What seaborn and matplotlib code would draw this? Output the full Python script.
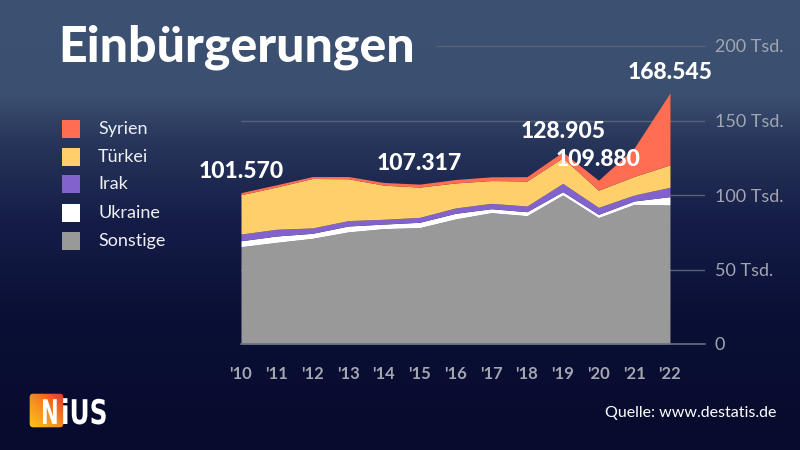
import numpy as np
import pandas as pd
import matplotlib
matplotlib.use('Agg')
import matplotlib.pyplot as plt
import seaborn as sns
from matplotlib.patches import Rectangle, FancyBboxPatch, PathPatch
from matplotlib.textpath import TextPath
from matplotlib.font_manager import FontProperties
from matplotlib.transforms import Affine2D

# Einbürgerungen in Tausend
years = [2010, 2011, 2012, 2013, 2014, 2015, 2016, 2017, 2018, 2019, 2020, 2021, 2022]
year_labels = ["'10", "'11", "'12", "'13", "'14", "'15", "'16", "'17", "'18", "'19", "'20", "'21", "'22"]
sonstige = [65.3, 68.2, 70.9, 75.2, 77.4, 78.1, 83.9, 88.1, 86.1, 100.0, 84.8, 93.7, 93.3]
ukraine = [4.0, 4.3, 3.4, 4.0, 3.1, 3.6, 3.8, 2.7, 2.7, 2.2, 2.2, 2.3, 5.6]
irak = [4.5, 4.5, 3.6, 3.6, 3.2, 3.3, 3.6, 3.6, 3.8, 5.6, 4.7, 4.0, 6.3]
tuerkei = [26.4, 28.4, 33.2, 28.1, 22.9, 20.3, 16.8, 15.3, 16.8, 17.2, 11.5, 12.5, 15.0]
syrien = [1.4, 1.5, 1.3, 1.5, 1.8, 2.0, 2.3, 2.5, 2.9, 3.9, 6.7, 19.1, 48.3]
totals = [101570, 106897, 112348, 112353, 108422, 107317, 110383, 112211, 112340, 128905, 109880, 131595, 168545]
labelled_years = [2010, 2015, 2019, 2020, 2022]

y_ticks = [0, 50, 100, 150, 200]
y_tick_labels = ['0', '50 Tsd.', '100 Tsd.', '150 Tsd.', '200 Tsd.']

df = pd.DataFrame({'Jahr': years, 'Sonstige': sonstige, 'Ukraine': ukraine,
                   'Irak': irak, 'Türkei': tuerkei, 'Syrien': syrien})
stack_order = ['Sonstige', 'Ukraine', 'Irak', 'Türkei', 'Syrien']
colors = {'Syrien': '#ff6e52', 'Türkei': '#ffcf6a', 'Irak': '#8262cc',
          'Ukraine': '#ffffff', 'Sonstige': '#999999'}

sns.set_theme(style='dark')
plt.rcParams['font.family'] = ['Lato', 'DejaVu Sans']

fig = plt.figure(figsize=(8, 4.5), dpi=100)

# background gradient
bg = fig.add_axes([0, 0, 1, 1], zorder=-10)
stops_y = [0, 95, 140, 220, 320, 450]
stops_c = ['#3d5272', '#3b4f70', '#28365b', '#151d47', '#0a0f35', '#070b2d']
rgb = np.array([matplotlib.colors.to_rgb(c) for c in stops_c])
rows = np.arange(450)
grad = np.stack([np.interp(rows, stops_y, rgb[:, i]) for i in range(3)], axis=1)
bg.imshow(grad[:, None, :], aspect='auto', extent=[0, 1, 0, 1])
bg.set_xlim(0, 1)
bg.set_ylim(0, 1)
bg.set_axis_off()

ax = fig.add_axes([241 / 800, 106 / 450, 464 / 800, 298 / 450])
ax.set_facecolor('none')

# gridlines behind areas
for yv in [50, 100, 150]:
    ax.axhline(yv, color='#56617a', lw=1, zorder=0)
ax.axhline(200, xmin=0.42, color='#56617a', lw=1, zorder=0, clip_on=False)

ax.stackplot(df['Jahr'], [df[c] for c in stack_order],
             colors=[colors[c] for c in stack_order], lw=0, zorder=2)

for yr, tot in zip(years, totals):
    if yr in labelled_years:
        ax.annotate(f'{tot:,}'.replace(',', '.'), (yr, tot / 1000), xytext=(0, 15),
                    textcoords='offset points', ha='center', va='center',
                    fontsize=16.5, fontweight='black', color='white', zorder=5)

ax.set_xlim(2010, 2022.98)
ax.set_ylim(0, 200)
ax.yaxis.tick_right()
ax.set_yticks(y_ticks)
ax.set_yticklabels(y_tick_labels)
ax.set_xticks(years)
ax.set_xticklabels(year_labels)
ax.set_xticks([2010, 2020], minor=True)
ax.tick_params(axis='y', length=0, pad=7, labelsize=13, labelcolor='#a3a6b0')
ax.tick_params(axis='x', which='major', length=5, width=1, color='#555c70', pad=11,
               labelsize=12, labelcolor='#a3a6b0')
ax.tick_params(axis='x', which='minor', length=10, width=1, color='#555c70')
for lbl in ax.get_xticklabels():
    lbl.set_fontweight('bold')
ax.grid(False)
sns.despine(ax=ax, left=True, right=True, top=True)
ax.spines['bottom'].set_color('#6a7082')
ax.spines['bottom'].set_linewidth(1.2)
ax.spines['bottom'].set_zorder(3)

# title
fig.text(58 / 800, 1 - 47 / 450, 'Einbürgerungen', fontsize=36, fontweight='black',
         color='white', va='center', ha='left')

# legend
legend_y = [129, 157, 184, 213, 241]
for name, ly in zip(['Syrien', 'Türkei', 'Irak', 'Ukraine', 'Sonstige'], legend_y):
    fig.patches.append(Rectangle((62 / 800, 1 - (ly + 9) / 450), 18 / 800, 18 / 450,
                                 transform=fig.transFigure, facecolor=colors[name],
                                 edgecolor='none'))
    fig.text(98 / 800, 1 - ly / 450, name, fontsize=13, color='#eef0f5',
             va='center', ha='left')

# logo
logo = fig.add_axes([29 / 800, 1 - 428 / 450, 35 / 800, 35 / 450])
lg = np.linspace(0, 1, 64)
gx, gy = np.meshgrid(lg, lg)
logo_grad = np.clip((gx + (1 - gy)) / 2, 0, 1)
cmap = matplotlib.colors.LinearSegmentedColormap.from_list('niu', ['#ffc61a', '#f58a1f', '#e4332b'])
im = logo.imshow(logo_grad, cmap=cmap, extent=[0, 1, 0, 1], aspect='auto')
box = FancyBboxPatch((0.02, 0.02), 0.96, 0.96, boxstyle='round,pad=0,rounding_size=0.1',
                     transform=logo.transAxes, facecolor='none', edgecolor='none')
logo.add_patch(box)
im.set_clip_path(box)
logo.set_axis_off()

# logo lettering, drawn in pixel space
fp = FontProperties(family='DejaVu Sans', weight='bold')
pix = fig.add_axes([0, 0, 1, 1], zorder=5)
pix.set_xlim(0, 800)
pix.set_ylim(450, 0)
pix.set_axis_off()
for txt, x0, sx in [('N', 41, 0.62), ('iUS', 61, 0.73)]:
    tp = TextPath((0, 0), txt, size=34, prop=fp)
    tr = Affine2D().scale(sx, -1.0).translate(x0, 424)
    pix.add_patch(PathPatch(tr.transform_path(tp), facecolor='white', edgecolor='none'))

fig.text(776 / 800, 1 - 413 / 450, 'Quelle: www.destatis.de', fontsize=11.5,
         color='white', ha='right', va='center')

fig.savefig('out.png', dpi=100)
